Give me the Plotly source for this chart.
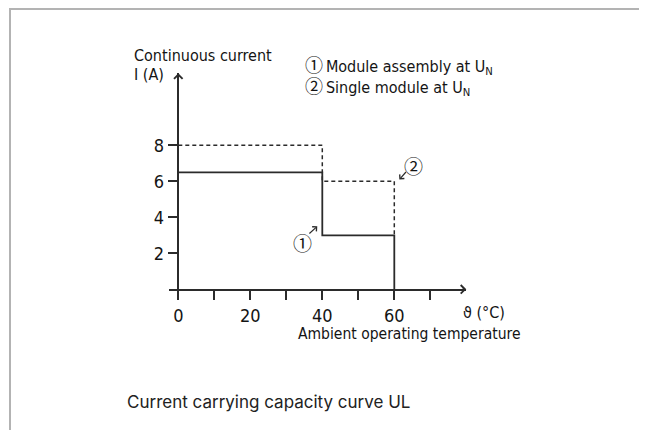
import plotly.graph_objects as go

W, H = 647, 430
OFF = 8  # page body margin offset

# Data
module_assembly_x = [0, 40, 40, 60, 60]
module_assembly_y = [6.5, 6.5, 3, 3, 0]
single_module_x = [0, 40, 40, 60, 60]
single_module_y = [8, 8, 6, 6, 3]
x_tick_vals = [0, 10, 20, 30, 40, 50, 60, 70]
x_tick_text = ["0", "", "20", "", "40", "", "60", ""]
y_tick_vals = [2, 4, 6, 8]
y_tick_text = ["2", "4", "6", "8"]

FONT = "DejaVu Sans Condensed"
CJK = "Noto Sans CJK JP"
INK = "#141414"
LINE = "#2b2b2b"

# pixel mapping (reference pixels, shifted by body margin)
x0_px, px_per_x = 178.3 - OFF, 3.6
y0_px, px_per_y = 289.3 - OFF, 18.0
XR = [-2.5, 80]
YR = [0, 12]
dom_x = [(x0_px + XR[0] * px_per_x) / W, (x0_px + XR[1] * px_per_x) / W]
dom_y = [(H - (y0_px - YR[0] * px_per_y)) / H, (H - (y0_px - YR[1] * px_per_y)) / H]
yaxis_pos = x0_px / W

def px(xp, yp):
    return (xp - OFF) / W, 1 - (yp - OFF) / H

def circ(ch, size=18):
    return "<span style='font-family:%s;font-size:%dpx'>%s</span>" % (CJK, size, ch)

fig = go.Figure()
fig.add_trace(go.Scatter(x=single_module_x, y=single_module_y, mode="lines",
                         line=dict(color=LINE, width=1.5, dash="4px,3px"),
                         hoverinfo="skip", showlegend=False, cliponaxis=False))
fig.add_trace(go.Scatter(x=module_assembly_x, y=module_assembly_y, mode="lines",
                         line=dict(color=LINE, width=1.8),
                         hoverinfo="skip", showlegend=False, cliponaxis=False))

ann = []
ann.append(dict(x=XR[1], y=0, ax=XR[1] - 1.5, ay=0, xref="x", yref="y", axref="x", ayref="y",
                showarrow=True, arrowhead=4, arrowsize=1.1, arrowwidth=1.5, arrowcolor=LINE, text=""))
ann.append(dict(x=0, y=YR[1], ax=0, ay=YR[1] - 0.3, xref="x", yref="y", axref="x", ayref="y",
                showarrow=True, arrowhead=4, arrowsize=1.1, arrowwidth=1.5, arrowcolor=LINE, text=""))
ann.append(dict(x=38.6, y=3.5, ax=36.0, ay=3.02, xref="x", yref="y", axref="x", ayref="y",
                showarrow=True, arrowhead=4, arrowsize=1.0, arrowwidth=1.2, arrowcolor=LINE, text=""))
ann.append(dict(x=61.4, y=6.1, ax=63.6, ay=6.6, xref="x", yref="y", axref="x", ayref="y",
                showarrow=True, arrowhead=4, arrowsize=1.0, arrowwidth=1.2, arrowcolor=LINE, text=""))

def txt(text, xp, yp, size=16, xanchor="left", font=FONT, color=INK):
    x, y = px(xp, yp)
    ann.append(dict(text=text, x=x, y=y, xref="paper", yref="paper", showarrow=False,
                    xanchor=xanchor, yanchor="middle", align="left",
                    font=dict(family=font, size=size, color=color)))

txt("Continuous current", 132, 55)
txt("I (A)", 132, 74)
txt(circ("①") + "\u2009Module assembly at U<sub>N</sub><br>"
    + circ("②") + "\u2009Single module at U<sub>N</sub>", 303, 75)
txt("ϑ (°C)", 461, 312)
txt("Ambient operating temperature", 296, 334, size=15.5)
txt(circ("①", 19), 302, 242, xanchor="center")
txt(circ("②", 19), 413, 165, xanchor="center")
txt("Current carrying capacity curve UL", 268, 402, size=17, xanchor="center",
    font="Inter, Roboto, sans-serif", color="#222")

bx, by = px(10, 6)
shapes = [
    dict(type="line", xref="paper", yref="paper", x0=bx, y0=1 - 1 / H, x1=1.0, y1=1 - 1 / H,
         line=dict(color="#b3b3b3", width=2)),
    dict(type="line", xref="paper", yref="paper", x0=bx, y0=1.0, x1=bx, y1=-0.05,
         line=dict(color="#b3b3b3", width=2)),
]

fig.update_layout(
    width=W, height=H, margin=dict(l=0, r=0, t=0, b=0),
    paper_bgcolor="white", plot_bgcolor="white",
    annotations=ann, shapes=shapes,
    xaxis=dict(domain=dom_x, range=XR, showgrid=False, zeroline=False, showline=True,
               linecolor=LINE, linewidth=1.5, ticks="outside", ticklen=9, tickwidth=1.5,
               tickcolor=LINE, tickvals=x_tick_vals, ticktext=x_tick_text,
               tickfont=dict(family=FONT, size=18, color=INK), fixedrange=True),
    yaxis=dict(domain=dom_y, range=YR, anchor="free", position=yaxis_pos, showgrid=False,
               zeroline=False, showline=True, linecolor=LINE, linewidth=1.5, ticks="outside",
               ticklen=10, tickwidth=1.5, tickcolor=LINE, tickvals=y_tick_vals,
               ticktext=y_tick_text, tickfont=dict(family=FONT, size=18, color=INK),
               fixedrange=True),
)

fig.write_html("out.html")
